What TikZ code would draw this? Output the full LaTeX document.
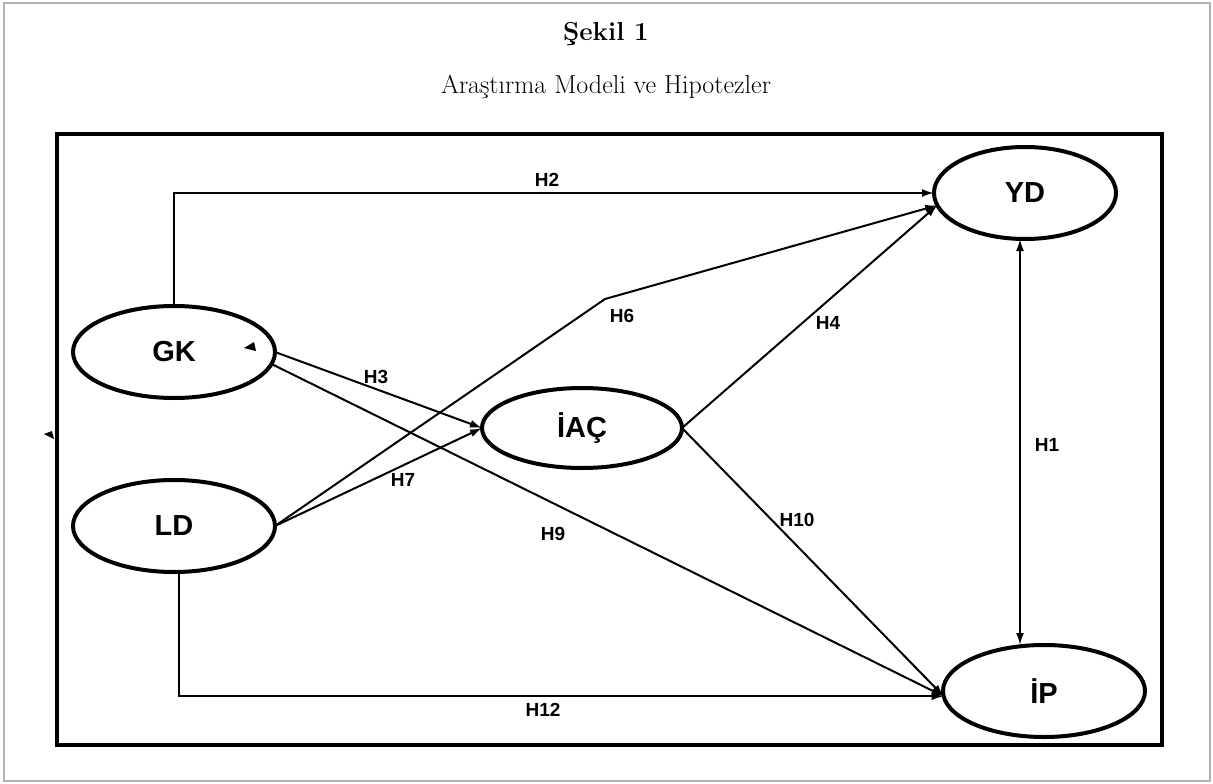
\documentclass[tikz,border=0pt]{standalone}
\usepackage{fontspec}
\newfontfamily\lblfont{Liberation Sans}
\usetikzlibrary{shapes.geometric,arrows.meta}
\begin{document}
\begin{tikzpicture}[x=1pt,y=-1pt,
  latent/.style={ellipse,draw,line width=4pt,inner sep=0pt,outer sep=0pt,
    font=\lblfont\bfseries\fontsize{29}{31}\selectfont},
  link/.style={line width=2pt,-{Latex[length=12pt,width=8pt]}},
  hyp/.style={font=\lblfont\bfseries\fontsize{19}{21}\selectfont,inner sep=0pt},
]
\useasboundingbox (0,0) rectangle (1213,784);
% page frame and caption
\draw[gray!60,line width=1.5pt] (4,3) rectangle (1210,781);
\node[font=\bfseries\fontsize{26}{29}\selectfont] (title) at (606,34) {Şekil 1};
\node[font=\fontsize{26}{29}\selectfont] (subtitle) at (606,87) {Araştırma Modeli ve Hipotezler};
\draw[line width=4.5pt] (57,134) rectangle (1162,745);

% constructs
\node[latent,minimum width=202pt,minimum height=92pt] (GK) at (174,352) {GK};
\node[latent,minimum width=202pt,minimum height=92pt] (LD) at (174,526) {LD};
\node[latent,minimum width=200pt,minimum height=80pt] (IAC) at (582,428) {İAÇ};
\node[latent,minimum width=182pt,minimum height=92pt] (YD) at (1025,193) {YD};
\node[latent,minimum width=202pt,minimum height=92pt] (IP) at (1044,691) {İP};

% paths
\coordinate (bend6) at (605,299);
\coordinate (h1) at (1020,0);
\draw[link] (GK.north) |- (YD.west);
\draw[link] (LD.east) -- (bend6) -- (YD.188);
\draw[link] (IAC.east) -- (YD.188);
\draw[link] (GK.east) -- (IAC.west);
\draw[link] (LD.east) -- (IAC.west);
\draw[link] (GK.-7) -- (IP.183);
\draw[link] (IAC.east) -- (IP.183);
\draw[link] ([xshift=5pt]LD.south) |- (IP.183);
\draw[line width=2pt,{Latex[length=12pt,width=8pt]}-{Latex[length=12pt,width=8pt]}]
  (YD.south -| h1) -- (IP.north -| h1);

% hypothesis labels
\node[hyp] (lH1) at (1047,445) {H1};
\node[hyp] (lH2) at (547,180) {H2};
\node[hyp] (lH3) at (376,377) {H3};
\node[hyp] (lH4) at (828,323) {H4};
\node[hyp] (lH6) at (622,316) {H6};
\node[hyp] (lH7) at (403,480) {H7};
\node[hyp] (lH9) at (553,534) {H9};
\node[hyp] (lH10) at (797,520) {H10};
\node[hyp] (lH12) at (543,710) {H12};

% small loose arrowheads
\fill (244,348) -- (254,342) -- (256,351) -- cycle;
\fill (44,434) -- (52,431) -- (54,439) -- cycle;
\end{tikzpicture}
\end{document}
